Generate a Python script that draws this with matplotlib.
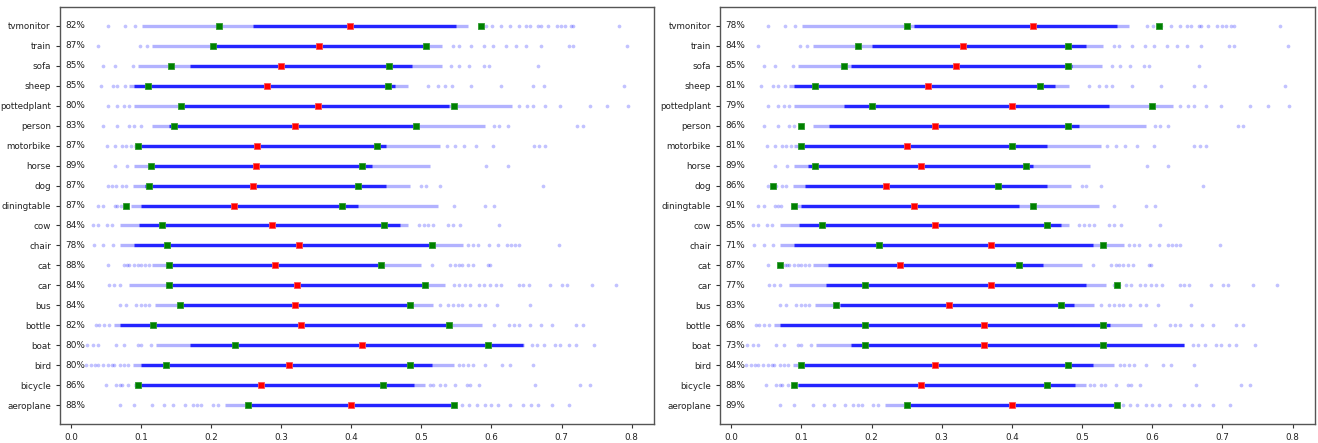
import matplotlib
matplotlib.use("Agg")
import matplotlib.pyplot as plt

classes = ["aeroplane", "bicycle", "bird", "boat", "bottle", "bus", "car", "cat",
           "chair", "cow", "diningtable", "dog", "horse", "motorbike", "person",
           "pottedplant", "sheep", "sofa", "train", "tvmonitor"]

# dense band of overlapping points (light range, dark core)
band_lo = [0.219, 0.090, 0.088, 0.121, 0.061, 0.119, 0.083, 0.116, 0.069, 0.069,
           0.085, 0.088, 0.090, 0.090, 0.116, 0.090, 0.083, 0.095, 0.116, 0.101]
band_hi = [0.548, 0.505, 0.546, 0.646, 0.586, 0.517, 0.534, 0.500, 0.560, 0.481,
           0.524, 0.484, 0.512, 0.527, 0.591, 0.629, 0.481, 0.529, 0.530, 0.567]
core_lo = [0.252, 0.095, 0.100, 0.170, 0.070, 0.155, 0.135, 0.138, 0.090, 0.097,
           0.100, 0.105, 0.110, 0.095, 0.140, 0.160, 0.090, 0.170, 0.200, 0.260]
core_hi = [0.548, 0.490, 0.515, 0.645, 0.540, 0.488, 0.505, 0.445, 0.515, 0.470,
           0.410, 0.450, 0.430, 0.450, 0.496, 0.539, 0.462, 0.486, 0.505, 0.550]

# isolated points outside the dense band
tail_points = [
    [0.070, 0.090, 0.116, 0.132, 0.146, 0.162, 0.174, 0.180, 0.186, 0.202, 0.209,
     0.558, 0.568, 0.579, 0.591, 0.600, 0.610, 0.626, 0.645, 0.657, 0.666, 0.687, 0.711],
    [0.049, 0.064, 0.069, 0.073, 0.081, 0.512, 0.517, 0.527, 0.533, 0.548, 0.565,
     0.570, 0.582, 0.662, 0.727, 0.740],
    [0.021, 0.028, 0.034, 0.038, 0.045, 0.052, 0.058, 0.061, 0.069, 0.075, 0.081,
     0.554, 0.560, 0.567, 0.574, 0.591, 0.615, 0.627, 0.659],
    [0.023, 0.031, 0.038, 0.064, 0.075, 0.095, 0.100, 0.114, 0.658, 0.665, 0.675,
     0.691, 0.698, 0.710, 0.720, 0.747],
    [0.035, 0.040, 0.047, 0.054, 0.604, 0.625, 0.632, 0.639, 0.655, 0.671, 0.687,
     0.720, 0.730],
    [0.069, 0.078, 0.093, 0.100, 0.105, 0.111, 0.527, 0.538, 0.545, 0.552, 0.558,
     0.569, 0.582, 0.591, 0.608, 0.655],
    [0.054, 0.061, 0.069, 0.546, 0.553, 0.562, 0.570, 0.582, 0.590, 0.598, 0.606,
     0.614, 0.639, 0.645, 0.653, 0.684, 0.701, 0.708, 0.743, 0.778],
    [0.052, 0.076, 0.080, 0.083, 0.090, 0.095, 0.100, 0.105, 0.111, 0.515, 0.541,
     0.548, 0.553, 0.558, 0.566, 0.573, 0.595, 0.598],
    [0.033, 0.046, 0.059, 0.567, 0.574, 0.581, 0.597, 0.609, 0.622, 0.628, 0.634,
     0.639, 0.697],
    [0.031, 0.038, 0.051, 0.058, 0.496, 0.503, 0.510, 0.517, 0.538, 0.545, 0.555, 0.611],
    [0.038, 0.046, 0.062, 0.066, 0.071, 0.546, 0.591, 0.604],
    [0.052, 0.058, 0.064, 0.072, 0.078, 0.500, 0.506, 0.527, 0.673],
    [0.062, 0.080, 0.592, 0.623],
    [0.051, 0.062, 0.072, 0.078, 0.085, 0.536, 0.548, 0.561, 0.578, 0.602, 0.660,
     0.668, 0.677],
    [0.046, 0.066, 0.083, 0.090, 0.100, 0.604, 0.611, 0.623, 0.722, 0.730],
    [0.053, 0.066, 0.075, 0.083, 0.639, 0.651, 0.659, 0.677, 0.698, 0.740, 0.765, 0.795],
    [0.042, 0.059, 0.066, 0.077, 0.510, 0.524, 0.534, 0.543, 0.571, 0.613, 0.659,
     0.675, 0.789],
    [0.046, 0.062, 0.088, 0.542, 0.554, 0.568, 0.589, 0.596, 0.667],
    [0.038, 0.098, 0.108, 0.545, 0.553, 0.571, 0.590, 0.602, 0.621, 0.635, 0.649,
     0.670, 0.710, 0.717, 0.794],
    [0.052, 0.077, 0.091, 0.592, 0.601, 0.613, 0.627, 0.640, 0.649, 0.655, 0.667,
     0.670, 0.680, 0.693, 0.699, 0.705, 0.713, 0.717, 0.782],
]

# left panel markers
left_low = [0.252, 0.096, 0.136, 0.234, 0.117, 0.156, 0.139, 0.140, 0.137, 0.129,
            0.078, 0.111, 0.114, 0.095, 0.147, 0.157, 0.109, 0.143, 0.202, 0.211]
left_mid = [0.399, 0.271, 0.311, 0.415, 0.328, 0.320, 0.322, 0.291, 0.325, 0.287,
            0.232, 0.260, 0.264, 0.265, 0.320, 0.352, 0.280, 0.300, 0.354, 0.398]
left_high = [0.546, 0.445, 0.484, 0.595, 0.539, 0.483, 0.505, 0.443, 0.515, 0.446,
             0.386, 0.410, 0.415, 0.437, 0.492, 0.546, 0.452, 0.454, 0.507, 0.585]
left_pct = [88, 86, 80, 80, 82, 84, 84, 88, 78, 84, 87, 87, 89, 87, 83, 80, 85, 85, 87, 82]

# right panel markers
right_low = [0.25, 0.09, 0.10, 0.19, 0.19, 0.15, 0.19, 0.07, 0.21, 0.13,
             0.09, 0.06, 0.12, 0.10, 0.10, 0.20, 0.12, 0.16, 0.18, 0.25]
right_mid = [0.40, 0.27, 0.29, 0.36, 0.36, 0.31, 0.37, 0.24, 0.37, 0.29,
             0.26, 0.22, 0.27, 0.25, 0.29, 0.40, 0.28, 0.32, 0.33, 0.43]
right_high = [0.55, 0.45, 0.48, 0.53, 0.53, 0.47, 0.55, 0.41, 0.53, 0.45,
              0.43, 0.38, 0.42, 0.40, 0.48, 0.60, 0.44, 0.48, 0.48, 0.61]
right_pct = [89, 88, 84, 73, 68, 83, 77, 87, 71, 85, 91, 86, 89, 81, 86, 79, 81, 85, 84, 78]

xticks = [0.0, 0.1, 0.2, 0.3, 0.4, 0.5, 0.6, 0.7, 0.8]

plt.rcParams['font.family'] = ['DejaVu Sans']
fig = plt.figure(figsize=(13.18, 4.43), dpi=100)
ax1 = fig.add_axes([0.0455, 0.0429, 0.4507, 0.9413])
ax2 = fig.add_axes([0.5463, 0.0429, 0.4514, 0.9413])

def draw(ax, low, mid, high, pct):
    ys = list(range(len(classes)))
    ax.hlines(ys, band_lo, band_hi, colors='#0000ff', alpha=0.3, linewidth=2.4)
    ax.hlines(ys, core_lo, core_hi, colors='#0000ff', alpha=0.8, linewidth=2.4)
    for y, pts in zip(ys, tail_points):
        ax.plot(pts, [y] * len(pts), 'o', color='#0000ff', alpha=0.24,
                markersize=2.7, markeredgewidth=0)
    ax.plot(low, ys, 's', color='#008000', markersize=5, markeredgewidth=0.6,
            markeredgecolor='#2e9a2e', zorder=5)
    ax.plot(high, ys, 's', color='#008000', markersize=5, markeredgewidth=0.6,
            markeredgecolor='#2e9a2e', zorder=5)
    ax.plot(mid, ys, 's', color='#ff0000', markersize=5, markeredgewidth=0.6,
            markeredgecolor='#ff5050', zorder=5)
    for y, p in zip(ys, pct):
        ax.text(-0.008, y, f"{p}%", ha='left', va='center', fontsize=6.4, color='#222222')
    ax.set_yticks(ys)
    ax.set_yticklabels(classes)
    ax.set_xticks(xticks)
    ax.set_xlim(-0.016, 0.832)
    ax.set_ylim(-0.95, 19.95)
    ax.tick_params(labelsize=6.3, length=3, width=0.8, colors='#333333', labelcolor='#222222')
    for s in ax.spines.values():
        s.set_color('#555555')
        s.set_linewidth(1.0)

draw(ax1, left_low, left_mid, left_high, left_pct)
draw(ax2, right_low, right_mid, right_high, right_pct)

fig.savefig("out.png", dpi=100)
